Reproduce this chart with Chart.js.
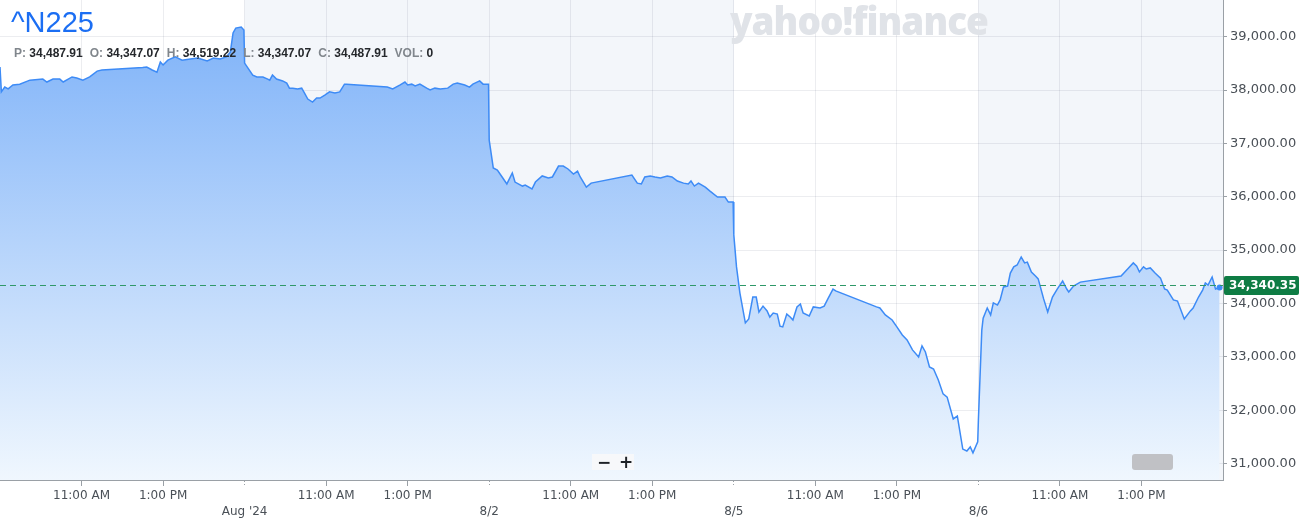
<!DOCTYPE html>
<html>
<head>
<meta charset="utf-8">
<title>^N225</title>
<script src="https://cdn.jsdelivr.net/npm/chart.js@4.4.1/dist/chart.umd.min.js"></script>
<style>
  html, body { margin: 0; padding: 0; background: #fff; overflow: hidden; }
  #box { position: relative; width: 1301px; height: 523px; }
  #chart { position: absolute; left: 0; top: 0; }
  .logo { position: absolute; left: 730px; top: 1px; font: 800 38px/38px "Open Sans", sans-serif; color: #e0e3e8; letter-spacing: -1px; white-space: nowrap; transform-origin: 0 0; }
  .ticker { position: absolute; left: 11px; top: 8px; font: 29px/29px "Liberation Sans", Arial, sans-serif; color: #1b6ef3; }
  .ohlc { position: absolute; left: 14px; top: 46px; font: bold 12px/14px "Liberation Sans", Arial, sans-serif; color: #25282c; white-space: nowrap; }
  .ohlc span { margin-right: 7px; }
  .ohlc b { color: #80868c; }
  .zoom { position: absolute; left: 592px; top: 454px; width: 42px; height: 16px; background: #f7f8fa; }
  .zoom span { position: absolute; top: 0; width: 14px; font: bold 17px/16px "DejaVu Sans", sans-serif; color: #1f2226; text-align: center; }
  .handle { position: absolute; left: 1132px; top: 454px; width: 41px; height: 16px; background: #c0c1c5; border-radius: 3px; }
</style>
</head>
<body>
<div id="box">
  <canvas id="chart" width="1301" height="523"></canvas>
  <div class="logo" id="logo">yahoo!finance</div>
  <div class="ticker">^N225</div>
  <div class="ohlc"><span><b>P:</b> 34,487.91</span><span><b>O:</b> 34,347.07</span><span><b>H:</b> 34,519.22</span><span><b>L:</b> 34,347.07</span><span><b>C:</b> 34,487.91</span><span><b>VOL:</b> 0</span></div>
  <div class="zoom"><span style="left:5px">−</span><span style="left:27px">+</span></div>
  <div class="handle"></div>
</div>
<script>
// sessions shown on the chart, 9:00 - 15:00 each
const days = ["7/31", "8/1", "8/2", "8/5", "8/6"];
const shadedDays = [1, 2, 4];

const jul31Times = ["09:00","09:02","09:07","09:12","09:19","09:29","09:44","10:03","10:09","10:18","10:28","10:33","10:46","10:53","11:02","11:12","11:23","11:30","12:30","12:36","12:44","12:51","12:56","13:00","13:07","13:18","13:28","13:40","13:51","14:05","14:14","14:24","14:33","14:39","14:43","14:47","14:55","14:59"];
const jul31Prices = [38430,37965,38055,38020,38095,38110,38185,38205,38150,38205,38205,38150,38245,38225,38185,38245,38355,38375,38420,38430,38375,38335,38525,38470,38560,38620,38560,38580,38600,38545,38600,38580,38620,38710,39070,39160,39180,39125];

const aug1Times = ["09:00","09:04","09:12","09:18","09:27","09:34","09:37","09:41","09:47","09:56","10:02","10:06","10:11","10:18","10:24","10:28","10:33","10:40","10:46","10:51","10:58","11:05","11:13","11:20","11:27","11:30","12:30","12:38","12:49","12:56","13:00","13:06","13:11","13:18","13:28","13:33","13:40","13:48","13:59","14:07","14:13","14:24","14:31","14:36","14:46","14:51","14:59"];
const aug1Prices = [38505,38430,38280,38245,38245,38205,38185,38280,38205,38170,38130,38035,38035,38020,38035,37945,37830,37775,37850,37850,37905,37965,37945,37965,38110,38110,38055,38020,38095,38150,38095,38110,38075,38110,38035,38000,38035,38020,38035,38110,38130,38095,38055,38110,38170,38110,38110];

const aug2Times = ["09:00","09:06","09:12","09:19","09:26","09:34","09:38","09:49","09:53","10:03","10:08","10:18","10:27","10:33","10:42","10:49","10:56","11:04","11:10","11:14","11:23","11:30","12:30","12:38","12:44","12:49","12:57","13:04","13:12","13:22","13:29","13:37","13:46","13:53","13:57","14:02","14:08","14:18","14:25","14:36","14:47","14:52","14:59"];
const aug2Prices = [37060,36540,36500,36370,36240,36445,36275,36200,36220,36145,36275,36390,36350,36370,36575,36575,36520,36425,36480,36370,36180,36255,36405,36255,36240,36370,36390,36370,36350,36390,36370,36295,36255,36240,36295,36200,36255,36180,36105,35995,35995,35900,35900];

const aug5Times = ["09:00","09:04","09:09","09:17","09:22","09:28","09:33","09:37","09:43","09:49","09:53","09:58","10:04","10:08","10:12","10:18","10:23","10:27","10:33","10:38","10:42","10:51","10:57","11:07","11:13","11:19","11:26","11:30","12:30","12:35","12:43","12:53","13:00","13:08","13:15","13:23","13:32","13:37","13:42","13:48","13:54","14:01","14:08","14:14","14:23","14:29","14:37","14:43","14:48","14:52","14:59"];
const aug5Prices = [35285,34685,34195,33635,33710,34120,34120,33840,33950,33860,33745,33820,33800,33575,33560,33800,33745,33690,33935,33990,33820,33765,33935,33915,33950,34100,34270,34235,33935,33915,33785,33690,33560,33410,33315,33130,32995,33205,33090,32810,32770,32565,32305,32245,31835,31890,31270,31235,31310,31200,31405];

const aug6Times = ["09:00","09:05","09:07","09:13","09:18","09:22","09:28","09:32","09:37","09:43","09:47","09:52","09:57","10:03","10:08","10:12","10:18","10:24","10:28","10:36","10:42","10:49","10:56","11:04","11:10","11:13","11:20","11:30","12:30","12:41","12:48","12:53","12:57","13:03","13:07","13:13","13:20","13:28","13:34","13:38","13:47","13:53","14:03","14:12","14:16","14:24","14:30","14:34","14:38","14:44","14:49","14:55"];
const aug6Prices = [31815,33500,33725,33915,33785,34010,33970,34065,34310,34325,34570,34685,34720,34870,34760,34775,34590,34515,34460,34085,33840,34120,34270,34420,34270,34215,34325,34400,34515,34665,34760,34700,34590,34685,34645,34665,34570,34475,34270,34250,34065,34045,33710,33860,33915,34120,34250,34385,34345,34495,34270,34300];

const lastPrice = 34340.35;

// x axis: hours of session time since 7/31 09:00 (6 h per day)
const xTickValues = [2, 4, 6, 8, 10, 12, 14, 16, 18, 20, 22, 24, 26, 28];
const xTickLabels = ["11:00 AM", "1:00 PM", ["", "Aug '24"], "11:00 AM", "1:00 PM", ["", "8/2"], "11:00 AM", "1:00 PM", ["", "8/5"], "11:00 AM", "1:00 PM", ["", "8/6"], "11:00 AM", "1:00 PM"];
const yTicks = [31000, 32000, 33000, 34000, 35000, 36000, 37000, 38000, 39000];

const sessionTimes = [jul31Times, aug1Times, aug2Times, aug5Times, aug6Times];
const sessionPrices = [jul31Prices, aug1Prices, aug2Prices, aug5Prices, aug6Prices];

let points = [];
sessionTimes.forEach((times, d) => {
    times.forEach((t, i) => {
        const [hh, mm] = t.split(":").map(Number);
        points.push({ x: d * 6 + (hh - 9) + mm / 60, y: sessionPrices[d][i] });
    });
});

const bands = {
    id: 'bands',
    beforeDraw(chart) {
        const { ctx, chartArea: a, scales: { x } } = chart;
        ctx.save();
        ctx.fillStyle = '#ffffff';
        ctx.fillRect(0, 0, chart.width, chart.height);
        ctx.fillStyle = '#f3f6fa';
        shadedDays.forEach(d => {
            const x0 = x.getPixelForValue(d * 6);
            const x1 = x.getPixelForValue(d * 6 + 6);
            ctx.fillRect(x0, a.top, x1 - x0, a.bottom - a.top);
        });
        ctx.restore();
    }
};

const priceTag = {
    id: 'priceTag',
    afterDraw(chart) {
        const { ctx, chartArea: a, scales: { y } } = chart;
        const py = Math.round(y.getPixelForValue(lastPrice)) + 0.5;
        ctx.save();
        ctx.strokeStyle = '#2e9868';
        ctx.lineWidth = 1;
        ctx.setLineDash([6, 4]);
        ctx.beginPath();
        ctx.moveTo(a.left, py);
        ctx.lineTo(a.right, py);
        ctx.stroke();
        ctx.setLineDash([]);
        ctx.fillStyle = '#0e7c44';
        ctx.beginPath();
        ctx.roundRect(a.right + 1, py - 9.5, 75, 19, 2);
        ctx.fill();
        ctx.fillStyle = '#ffffff';
        ctx.font = 'bold 12px "DejaVu Sans"';
        ctx.textBaseline = 'middle';
        ctx.fillText(lastPrice.toLocaleString('en-US', { minimumFractionDigits: 2 }), a.right + 6, py + 0.5);
        ctx.restore();
    }
};

// no extra room around the plot
function noPad(s) {
    s.paddingTop = 0;
    s.paddingBottom = 0;
    s.paddingLeft = 0;
    s.paddingRight = 0;
}

new Chart(document.getElementById('chart'), {
    type: 'line',
    data: {
        datasets: [{
            data: points,
            borderColor: '#3d8bf6',
            borderWidth: 1.5,
            tension: 0,
            fill: 'start',
            backgroundColor: c => {
                const a = c.chart.chartArea;
                if (!a) return '#b8d6fa';
                const g = c.chart.ctx.createLinearGradient(0, a.top, 0, a.bottom);
                g.addColorStop(0, 'rgb(121,175,248)');
                g.addColorStop(1, 'rgb(240,247,254)');
                return g;
            },
            pointRadius: c => c.dataIndex === points.length - 1 ? 3 : 0,
            pointBackgroundColor: '#3d8bf6',
            pointBorderWidth: 0,
            clip: false
        }]
    },
    options: {
        responsive: false,
        animation: false,
        events: [],
        layout: { padding: 0, autoPadding: false },
        plugins: { legend: { display: false }, tooltip: { enabled: false } },
        scales: {
            x: {
                type: 'linear',
                min: 0,
                max: 30,
                z: 1,
                afterBuildTicks: s => { s.ticks = xTickValues.map(v => ({ value: v })); },
                afterFit: s => { s.height = 43; noPad(s); },
                ticks: {
                    autoSkip: false,
                    maxRotation: 0,
                    padding: 2,
                    color: '#4a5057',
                    font: { family: 'DejaVu Sans', size: 12, lineHeight: 1.3 },
                    callback: v => xTickLabels[xTickValues.indexOf(v)]
                },
                grid: {
                    color: 'rgba(40,60,90,0.09)',
                    tickLength: 6,
                    tickColor: '#9aa0a6',
                    tickBorderDash: c => (c.tick && c.tick.value % 6 === 0) ? [1, 2] : []
                },
                border: { color: '#9aa0a6' }
            },
            y: {
                position: 'right',
                min: 30691,
                max: 39687,
                z: 1,
                afterBuildTicks: s => { s.ticks = yTicks.map(v => ({ value: v })); },
                afterFit: s => { s.width = 78; noPad(s); },
                ticks: {
                    padding: 3,
                    color: '#4a5057',
                    font: { family: 'DejaVu Sans', size: 13 },
                    callback: v => v.toLocaleString('en-US', { minimumFractionDigits: 2, maximumFractionDigits: 2 })
                },
                grid: { color: 'rgba(40,60,90,0.09)', tickLength: 4, tickColor: '#9aa0a6' },
                border: { color: '#9aa0a6' }
            }
        }
    },
    plugins: [bands, priceTag]
});

function fitLogo() {
    const logo = document.getElementById('logo');
    logo.style.transform = 'none';
    const w = logo.getBoundingClientRect().width;
    logo.style.transform = 'scaleX(' + (258 / w) + ')';
}
fitLogo();
document.fonts.ready.then(fitLogo);
</script>
</body>
</html>
